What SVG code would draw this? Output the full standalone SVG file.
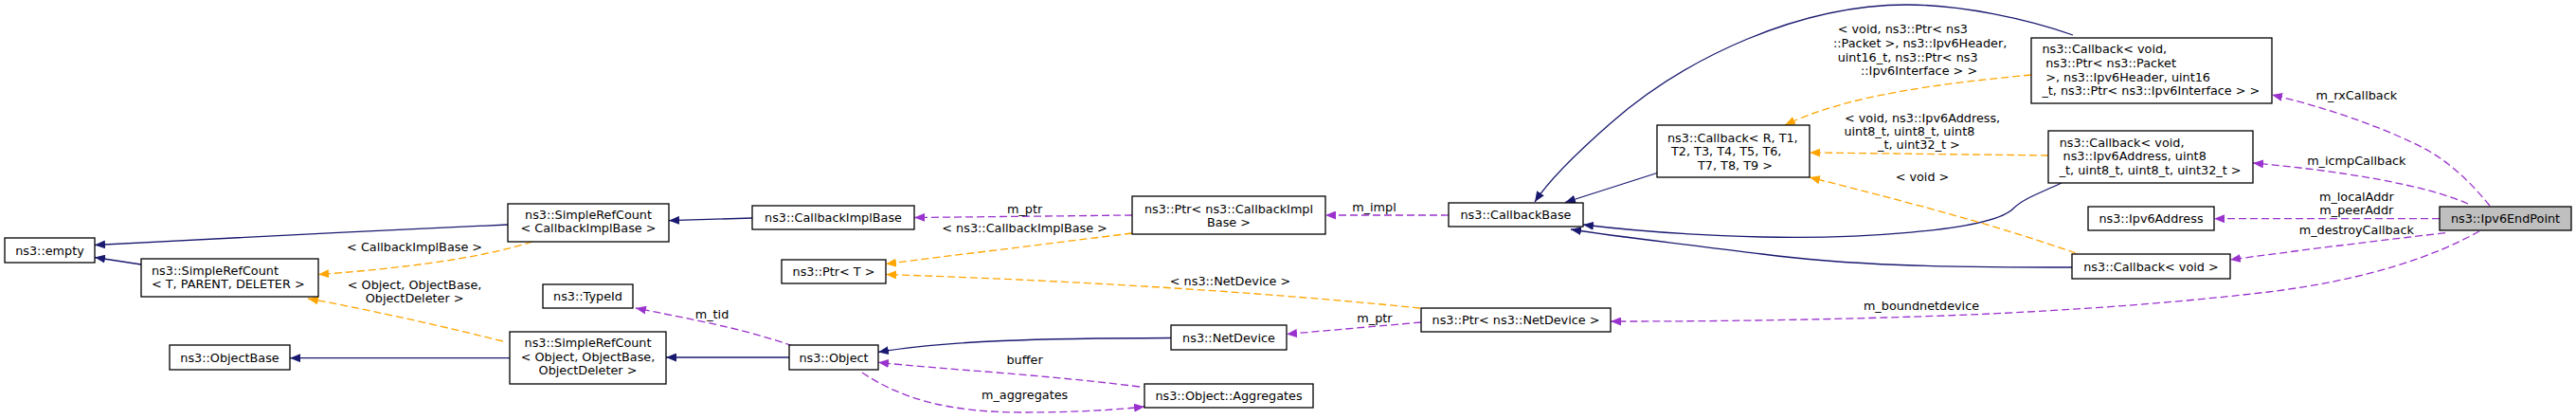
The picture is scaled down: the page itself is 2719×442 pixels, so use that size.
<svg xmlns="http://www.w3.org/2000/svg" width="2719" height="442" viewBox="0 0 2719 442">
<style>
text{font-family:"DejaVu Sans","Noto Sans",sans-serif;font-size:12.8px;fill:#000}
.m{text-anchor:middle}
.s{text-anchor:start}
.node rect{fill:#fff;stroke:#000;stroke-width:1.3}
.node rect.hl{fill:#bfbfbf}
.e{fill:none;stroke-width:1.3}
.inh{stroke:#191970;marker-end:url(#aN)}
.tpl{stroke:#ffa500;stroke-dasharray:8,4;marker-end:url(#aO)}
.use{stroke:#9a32cd;stroke-dasharray:8,4;marker-end:url(#aP)}
</style>
<defs>
<marker id="aN" markerUnits="userSpaceOnUse" markerWidth="12" markerHeight="9" refX="11" refY="4.5" orient="auto"><path d="M0,0 L11,4.5 L0,9 z" fill="#191970"/></marker>
<marker id="aO" markerUnits="userSpaceOnUse" markerWidth="12" markerHeight="9" refX="11" refY="4.5" orient="auto"><path d="M0,0 L11,4.5 L0,9 z" fill="#ffa500"/></marker>
<marker id="aP" markerUnits="userSpaceOnUse" markerWidth="12" markerHeight="9" refX="11" refY="4.5" orient="auto"><path d="M0,0 L11,4.5 L0,9 z" fill="#9a32cd"/></marker>
</defs>
<rect width="2719" height="442" fill="#fff"/>
<g id="connectors">
<path class="e inh" d="M536,237 C400,243 200,253 100,258.5"/>
<path class="e inh" d="M149,279 L100,271.5"/>
<path class="e inh" d="M794,230 C760,231 730,232 706,232.7"/>
<path class="e inh" d="M538,377.7 L306,377.7"/>
<path class="e inh" d="M833,377 L703,377"/>
<path class="e inh" d="M1236,356.5 C1100,357 1000,359 927,371.5"/>
<path class="e inh" d="M1749,182.5 L1652,213.5"/>
<path class="e inh" d="M2188,37 C2140,20 2070,5 2013,5 C1900,5 1780,60 1700,130 C1660,165 1635,190 1620,213"/>
<path class="e inh" d="M2176,193 C2150,205 2135,210 2125,220 C2100,245 1950,252 1860,250 C1780,248 1720,243 1671,237"/>
<path class="e inh" d="M2187,282 C2050,282 1950,280 1860,268 C1780,258 1710,250 1658,242"/>
<path class="e tpl" d="M562,255 C500,275 400,285 336,289.5"/>
<path class="e tpl" d="M531,360 C450,340 380,325 325,315"/>
<path class="e tpl" d="M1195,246 C1100,258 1000,270 935,278.5"/>
<path class="e tpl" d="M1499,325 C1300,305 1100,295 935,289.5"/>
<path class="e tpl" d="M2144,79 C2050,88 1950,100 1884,132"/>
<path class="e tpl" d="M2162,164 C2080,163 2000,162 1910,161"/>
<path class="e tpl" d="M2191,267 C2100,235 2000,210 1910,187"/>
<path class="e use" d="M1195,227 L965,229.5"/>
<path class="e use" d="M1529,227 L1399,227"/>
<path class="e use" d="M837,365 C780,345 720,335 671,325"/>
<path class="e use" d="M1203,408 C1100,395 1000,390 927,382.3"/>
<path class="e use" d="M910,393 C950,420 1000,435 1080,435 C1140,435 1180,432 1208,429"/>
<path class="e use" d="M1500,340 L1358,352.5"/>
<path class="e use" d="M2628,217 C2610,195 2590,175 2565,160 C2520,135 2450,112 2398,100"/>
<path class="e use" d="M2605,215 C2560,195 2470,180 2378,172"/>
<path class="e use" d="M2575,230.7 L2337,230.7"/>
<path class="e use" d="M2581,245.7 C2500,255 2420,265 2354,274"/>
<path class="e use" d="M2617,244 C2570,270 2500,295 2394,308 C2250,325 2100,332 1990,335 C1850,339 1750,339 1700,339"/>
<text class="m" x="437.6" y="264.5">&lt; CallbackImplBase &gt;</text>
<text class="m" x="437.6" y="304.5">&lt; Object, ObjectBase,</text>
<text class="m" x="437.6" y="318.5">ObjectDeleter &gt;</text>
<text class="m" x="751.5" y="336">m_tid</text>
<text class="m" x="1081.6" y="224.5">m_ptr</text>
<text class="m" x="1081.6" y="245">&lt; ns3::CallbackImplBase &gt;</text>
<text class="m" x="1298.5" y="301">&lt; ns3::NetDevice &gt;</text>
<text class="m" x="1081.6" y="384">buffer</text>
<text class="m" x="1081.6" y="421">m_aggregates</text>
<text class="m" x="1450.5" y="222.5">m_impl</text>
<text class="m" x="1451" y="340">m_ptr</text>
<text class="m" x="2028" y="327">m_boundnetdevice</text>
<text class="m" x="2029" y="190.5">&lt; void &gt;</text>
<text class="s" x="1939.7" y="35">&lt; void, ns3::Ptr&lt; ns3</text>
<text class="s" x="1935" y="50">::Packet &gt;, ns3::Ipv6Header,</text>
<text class="s" x="1939.7" y="64.5">uint16_t, ns3::Ptr&lt; ns3</text>
<text class="s" x="1964" y="78.5">::Ipv6Interface &gt; &gt;</text>
<text class="s" x="1947" y="128.5">&lt; void, ns3::Ipv6Address,</text>
<text class="s" x="1946.4" y="142.5">uint8_t, uint8_t, uint8</text>
<text class="s" x="1982" y="156.5">_t, uint32_t &gt;</text>
<text class="m" x="2487.3" y="105">m_rxCallback</text>
<text class="m" x="2487.3" y="173.5">m_icmpCallback</text>
<text class="m" x="2487.3" y="212">m_localAddr</text>
<text class="m" x="2487.3" y="226">m_peerAddr</text>
<text class="m" x="2487.3" y="246.5">m_destroyCallback</text>
</g>
<g id="n_empty" class="node"><rect x="5" y="251" width="95" height="26"/><text class="m" x="52.5" y="268.5">ns3::empty</text></g>
<g id="n_src_cib" class="node"><rect x="536" y="215" width="170" height="40"/><text class="m" x="621" y="231">ns3::SimpleRefCount</text><text class="m" x="621" y="245">&lt; CallbackImplBase &gt;</text></g>
<g id="n_src_t" class="node"><rect x="149" y="273" width="187" height="40"/><text class="s" x="160" y="289.5">ns3::SimpleRefCount</text><text class="s" x="160" y="304">&lt; T, PARENT, DELETER &gt;</text></g>
<g id="n_typeid" class="node"><rect x="573" y="300" width="95" height="25"/><text class="m" x="620.5" y="317">ns3::TypeId</text></g>
<g id="n_objectbase" class="node"><rect x="179" y="364" width="127" height="26"/><text class="m" x="242.5" y="381.5">ns3::ObjectBase</text></g>
<g id="n_src_obj" class="node"><rect x="538" y="350" width="165" height="55"/><text class="m" x="620.5" y="366">ns3::SimpleRefCount</text><text class="m" x="620.5" y="381">&lt; Object, ObjectBase,</text><text class="m" x="620.5" y="395">ObjectDeleter &gt;</text></g>
<g id="n_cib" class="node"><rect x="794" y="217" width="171" height="25"/><text class="m" x="879.5" y="234">ns3::CallbackImplBase</text></g>
<g id="n_ptr_cib" class="node"><rect x="1195" y="207" width="204" height="40"/><text class="m" x="1297" y="225">ns3::Ptr&lt; ns3::CallbackImpl</text><text class="m" x="1297" y="238.5">Base &gt;</text></g>
<g id="n_ptr_t" class="node"><rect x="825" y="274" width="110" height="25"/><text class="m" x="880" y="291">ns3::Ptr&lt; T &gt;</text></g>
<g id="n_netdevice" class="node"><rect x="1236" y="343" width="122" height="26"/><text class="m" x="1297" y="360.5">ns3::NetDevice</text></g>
<g id="n_object" class="node"><rect x="833" y="364" width="94" height="26"/><text class="m" x="880" y="381.5">ns3::Object</text></g>
<g id="n_aggregates" class="node"><rect x="1208" y="405" width="178" height="25"/><text class="m" x="1297" y="422">ns3::Object::Aggregates</text></g>
<g id="n_callbackbase" class="node"><rect x="1529" y="214" width="142" height="25"/><text class="m" x="1600" y="231">ns3::CallbackBase</text></g>
<g id="n_ptr_nd" class="node"><rect x="1500" y="325" width="200" height="25"/><text class="m" x="1600" y="342">ns3::Ptr&lt; ns3::NetDevice &gt;</text></g>
<g id="n_callback_rt" class="node"><rect x="1749" y="132" width="161" height="55"/><text class="s" x="1760" y="149.5">ns3::Callback&lt; R, T1,</text><text class="s" x="1764" y="164">T2, T3, T4, T5, T6,</text><text class="s" x="1792" y="178.5">T7, T8, T9 &gt;</text></g>
<g id="n_callback_rx" class="node"><rect x="2144" y="40" width="254" height="69"/><text class="s" x="2155.4" y="56">ns3::Callback&lt; void,</text><text class="s" x="2159.2" y="71">ns3::Ptr&lt; ns3::Packet</text><text class="s" x="2159.2" y="85.5">&gt;, ns3::Ipv6Header, uint16</text><text class="s" x="2155.4" y="100">_t, ns3::Ptr&lt; ns3::Ipv6Interface &gt; &gt;</text></g>
<g id="n_callback_icmp" class="node"><rect x="2162" y="138" width="216" height="55"/><text class="s" x="2173.7" y="154.5">ns3::Callback&lt; void,</text><text class="s" x="2177.6" y="169">ns3::Ipv6Address, uint8</text><text class="s" x="2173.7" y="183.5">_t, uint8_t, uint8_t, uint32_t &gt;</text></g>
<g id="n_ipv6address" class="node"><rect x="2204" y="218" width="133" height="25"/><text class="m" x="2270.5" y="235">ns3::Ipv6Address</text></g>
<g id="n_callback_void" class="node"><rect x="2187" y="268" width="167" height="26"/><text class="m" x="2270.5" y="285.5">ns3::Callback&lt; void &gt;</text></g>
<g id="n_ipv6endpoint" class="node"><rect class="hl" x="2575" y="218" width="139" height="25"/><text class="m" x="2644.5" y="235">ns3::Ipv6EndPoint</text></g>
</svg>
